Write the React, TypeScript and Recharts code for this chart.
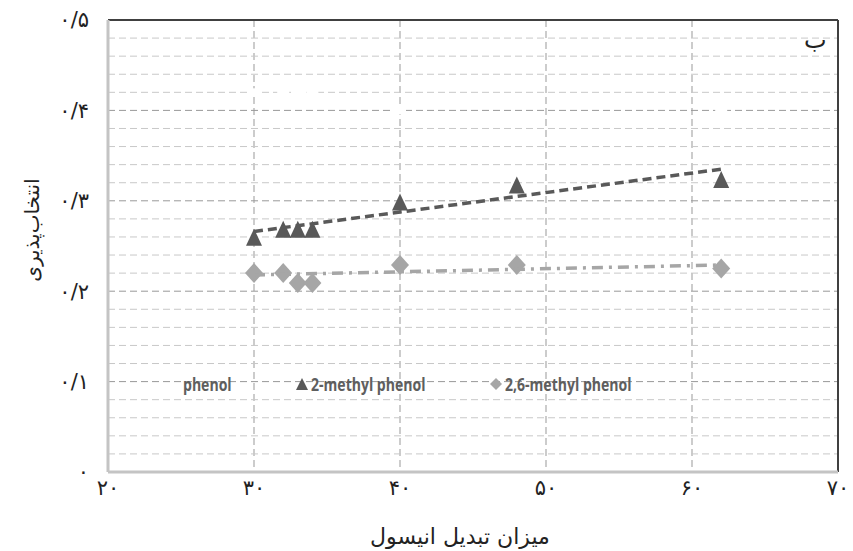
import {
  CartesianGrid,
  ReferenceLine,
  Scatter,
  ScatterChart,
  XAxis,
  YAxis,
} from "recharts";

// anisole conversion (x) and selectivity (y)
const conversion = [30, 32, 33, 34, 40, 48, 62];
const methylPhenol = [0.259, 0.268, 0.268, 0.268, 0.298, 0.317, 0.323];
const dimethylPhenol = [0.22, 0.22, 0.209, 0.209, 0.229, 0.229, 0.225];
// phenol series is drawn in white in the original (only visible as gaps in the grid)
const phenol = [0.42, 0.42, 0.42, 0.42, 0.4, 0.39, 0.4];

// linear trend lines, end points
const trendX = [30, 62];
const methylTrend = [0.266, 0.335];
const dimethylTrend = [0.218, 0.229];

const seriesNames = ["phenol", "2-methyl phenol", "2,6-methyl phenol"];

const xTicks = [20, 30, 40, 50, 60, 70];
const yTicks = [0, 0.1, 0.2, 0.3, 0.4, 0.5];
const yMinor = [
  0.02, 0.04, 0.06, 0.08, 0.12, 0.14, 0.16, 0.18, 0.22, 0.24, 0.26, 0.28,
  0.32, 0.34, 0.36, 0.38, 0.42, 0.44, 0.46, 0.48,
];

const xTitle = "میزان تبدیل انیسول";
const yTitle = "انتخاب‌پذیری";
const panelLabel = "ب";

const DARK = "#595959";
const LIGHT = "#a6a6a6";
const FA_FONT = "'DejaVu Sans', sans-serif";

const faDigits = "۰۱۲۳۴۵۶۷۸۹";
const toFa = (v: number) =>
  String(v)
    .replace(".", "/")
    .replace(/[0-9]/g, (d) => faDigits[Number(d)]);

const pts = (xs: number[], ys: number[]) => xs.map((x, i) => ({ x, y: ys[i] }));

const Triangle = (p: any) => (
  <polygon
    points={`${p.cx},${p.cy - 9} ${p.cx + 8},${p.cy + 8} ${p.cx - 8},${p.cy + 8}`}
    fill={DARK}
  />
);

const Diamond = (p: any) => (
  <polygon
    points={`${p.cx},${p.cy - 10} ${p.cx + 9},${p.cy} ${p.cx},${p.cy + 10} ${p.cx - 9},${p.cy}`}
    fill={LIGHT}
  />
);

const WhiteMark = (p: any) => (
  <rect x={p.cx - 6} y={p.cy - 4} width={12} height={8} fill="#ffffff" />
);

const NoMark = () => <g />;

const YTitle = () => (
  <text
    x={32}
    y={230}
    transform="rotate(-90 32 230)"
    textAnchor="middle"
    dominantBaseline="central"
    fontFamily={FA_FONT}
    fontSize={20}
    fill="#222"
  >
    {yTitle}
  </text>
);

const XTitle = () => (
  <text
    x={460}
    y={536}
    textAnchor="middle"
    dominantBaseline="central"
    fontFamily={FA_FONT}
    fontSize={22}
    fill="#222"
  >
    {xTitle}
  </text>
);

const legendText: React.CSSProperties = {
  position: "absolute",
  top: 0,
  fontFamily: "'Open Sans', sans-serif",
  fontWeight: 700,
  fontSize: 18,
  color: "#5e5e5e",
  whiteSpace: "nowrap",
  transform: "scaleX(0.78)",
  transformOrigin: "left center",
  lineHeight: "24px",
};

export default function App() {
  return (
    <div style={{ position: "fixed", left: 0, top: 0, width: 853, height: 551, background: "#fff" }}>
      <ScatterChart width={853} height={551} margin={{ top: 20, right: 15, bottom: 0, left: 0 }}>
        <CartesianGrid stroke="#999999" strokeDasharray="7 4" />
        {yMinor.map((v) => (
          <ReferenceLine key={v} y={v} stroke="#c8c8c8" strokeDasharray="7 4" />
        ))}
        <XAxis
          type="number"
          dataKey="x"
          domain={[20, 70]}
          ticks={xTicks}
          tickFormatter={toFa}
          tickLine={false}
          tickSize={0}
          tickMargin={8}
          height={79}
          axisLine={{ stroke: "#c4c4c4", strokeWidth: 3 }}
          tick={{ fontFamily: FA_FONT, fontSize: 21, fill: "#222" }}
          label={<XTitle />}
        />
        <YAxis
          type="number"
          dataKey="y"
          domain={[0, 0.5]}
          ticks={yTicks}
          tickFormatter={toFa}
          tickLine={false}
          tickSize={0}
          tickMargin={19}
          width={108}
          axisLine={{ stroke: "#c4c4c4", strokeWidth: 3 }}
          tick={{ fontFamily: FA_FONT, fontSize: 21, fill: "#222" }}
          label={<YTitle />}
        />
        <ReferenceLine y={0.5} stroke="#404040" strokeWidth={2} />
        <ReferenceLine x={70} stroke="#404040" strokeWidth={2} />
        <Scatter name={seriesNames[0]} data={pts(conversion, phenol)} shape={WhiteMark} isAnimationActive={false} />
        <Scatter name={seriesNames[1]} data={pts(conversion, methylPhenol)} shape={Triangle} isAnimationActive={false} />
        <Scatter name={seriesNames[2]} data={pts(conversion, dimethylPhenol)} shape={Diamond} isAnimationActive={false} />
        <Scatter
          data={pts(trendX, methylTrend)}
          shape={NoMark}
          line={{ stroke: DARK, strokeWidth: 3.5, strokeDasharray: "9 5" }}
          isAnimationActive={false}
        />
        <Scatter
          data={pts(trendX, dimethylTrend)}
          shape={NoMark}
          line={{ stroke: LIGHT, strokeWidth: 3.5, strokeDasharray: "11 6 3 6" }}
          isAnimationActive={false}
        />
      </ScatterChart>
      <div
        style={{
          position: "absolute",
          left: 804,
          top: 26,
          fontFamily: FA_FONT,
          fontSize: 24,
          color: "#222",
        }}
      >
        {panelLabel}
      </div>
      <div style={{ position: "absolute", left: 170, top: 372, width: 520, height: 24 }}>
        <span style={{ ...legendText, left: 13 }}>{seriesNames[0]}</span>
        <svg style={{ position: "absolute", left: 125, top: 5 }} width={14} height={14}>
          <polygon points="7,1 13,13 1,13" fill={DARK} />
        </svg>
        <span style={{ ...legendText, left: 141 }}>{seriesNames[1]}</span>
        <svg style={{ position: "absolute", left: 319, top: 5 }} width={14} height={14}>
          <polygon points="7,1 13,7 7,13 1,7" fill={LIGHT} />
        </svg>
        <span style={{ ...legendText, left: 335 }}>{seriesNames[2]}</span>
      </div>
    </div>
  );
}
